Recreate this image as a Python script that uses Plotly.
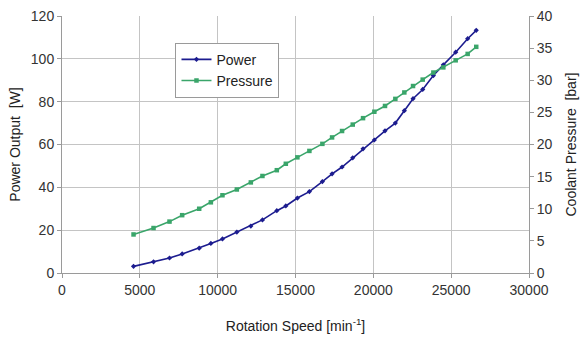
import plotly.graph_objects as go

rpm = [4596, 5880, 6906, 7720, 8813, 9563, 10308, 11232, 12131, 12876, 13800, 14378,
       15122, 15892, 16727, 17350, 17991, 18677, 19339, 20065, 20750, 21414, 21992,
       22550, 23171, 23856, 24497, 25290, 26060, 26611]
power = [3.1, 5.2, 7.0, 8.9, 11.6, 13.8, 15.9, 19.1, 21.9, 24.8, 29.1, 31.3, 35.0,
         38.0, 42.7, 46.3, 49.5, 53.8, 58.0, 62.1, 66.4, 70.0, 75.8, 81.4, 85.7, 92.2,
         97.2, 103.1, 109.4, 113.3]
pressure = [6, 7, 8, 9, 10, 11, 12.1, 13, 14.1, 15.1, 16, 17, 18, 19, 20.1, 21.1, 22.1,
            23.1, 24.1, 25.1, 26, 27.1, 28.1, 29.1, 30.1, 31.2, 32, 33.1, 34.1, 35.2]

font = dict(family="Liberation Sans, Arial, sans-serif", size=14, color="#333333")
title_font = dict(family="Liberation Sans, Arial, sans-serif", size=14, color="#222222")

fig = go.Figure()
fig.add_trace(go.Scatter(x=rpm, y=power, name="Power", mode="lines+markers",
                         line=dict(color="#1c1c8f", width=1.6),
                         marker=dict(symbol="diamond", size=4, color="#1c1c8f")))
fig.add_trace(go.Scatter(x=rpm, y=pressure, name="Pressure", mode="lines+markers",
                         yaxis="y2",
                         line=dict(color="#3aa56a", width=1.6),
                         marker=dict(symbol="square", size=4.5, color="#3aa56a")))

fig.update_layout(
    width=581, height=340,
    margin=dict(l=62, r=52, t=16, b=67),
    paper_bgcolor="white", plot_bgcolor="white",
    font=font,
    showlegend=True,
    legend=dict(x=0.243, y=0.896, xanchor="left", yanchor="top",
                bgcolor="white", bordercolor="#9a9a9a", borderwidth=1,
                font=dict(size=14, color="#222222"),
                itemwidth=30, tracegroupgap=0,
                traceorder="normal"),
    xaxis=dict(range=[0, 30000], dtick=5000, tickformat="d", automargin=False,
               showgrid=True, gridcolor="#c4c4c4", gridwidth=1,
               showline=True, linecolor="#9a9a9a", linewidth=1, mirror=False,
               ticks="outside", ticklen=4, tickcolor="#9a9a9a",
               zeroline=False,
               title=dict(text="Rotation Speed [min<sup>-1</sup>]", standoff=24,
                          font=title_font)),
    yaxis=dict(range=[0, 120], dtick=20, automargin=False,
               showgrid=True, gridcolor="#c4c4c4", gridwidth=1,
               showline=True, linecolor="#9a9a9a", linewidth=1,
               ticks="outside", ticklen=4, tickcolor="#9a9a9a",
               zeroline=False,
               title=dict(text="Power Output  [W]", standoff=6,
                          font=title_font)),
    yaxis2=dict(range=[0, 40], dtick=5, overlaying="y", side="right",
                automargin=False, showgrid=False,
                showline=True, linecolor="#9a9a9a", linewidth=1,
                ticks="outside", ticklen=4, tickcolor="#9a9a9a",
                zeroline=False,
                title=dict(text="Coolant Pressure  [bar]", standoff=14,
                           font=title_font)),
)

fig.write_html("out.html")
